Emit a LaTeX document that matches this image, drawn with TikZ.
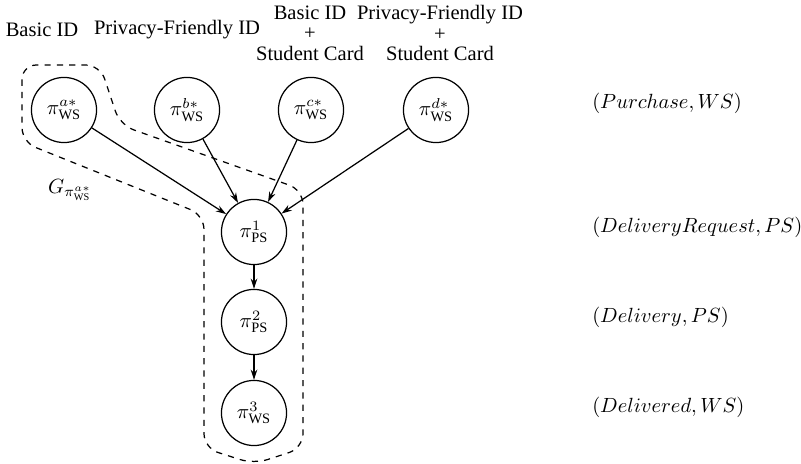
\documentclass[tikz,border=0pt]{standalone}
\usepackage{amsmath}
\usepackage[no-math]{fontspec}
\setmainfont{Liberation Serif}
\usetikzlibrary{arrows.meta}

\begin{document}
\begin{tikzpicture}[x=0.487pt, y=-0.487pt,
		state/.style={circle, draw, semithick, minimum size=31.7pt, inner sep=0pt},
		edge/.style={-{Stealth[length=5pt, width=3.2pt, inset=1.6pt]}, semithick},
		hull/.style={dashed, semithick, rounded corners=7pt},
		idlabel/.style={align=center, font=\fontsize{10}{10}\selectfont}]
		\useasboundingbox (0,0) rectangle (801,464);

		% Credentials
		\node[idlabel] (l1) at (42,30) {Basic ID};
		\node[idlabel] (l2) at (177,30) {Privacy-Friendly ID};
		\node[idlabel] (l3) at (310,33) {Basic ID\\+\\Student Card};
		\node[idlabel] (l4) at (440,33) {Privacy-Friendly ID\\+\\Student Card};

		% States
		\node[state] (a) at (64,110) {$\pi^{a*}_{\text{WS}}$};
		\node[state] (b) at (187,110) {$\pi^{b*}_{\text{WS}}$};
		\node[state] (c) at (311,110) {$\pi^{c*}_{\text{WS}}$};
		\node[state] (d) at (436,110) {$\pi^{d*}_{\text{WS}}$};
		\node[state] (p1) at (254,232) {$\pi^{1}_{\text{PS}}$};
		\node[state] (p2) at (254,322) {$\pi^{2}_{\text{PS}}$};
		\node[state] (w3) at (254,413) {$\pi^{3}_{\text{WS}}$};

		\draw[edge] (a) -- (p1);
		\draw[edge] (b) -- (p1);
		\draw[edge] (c) -- (p1);
		\draw[edge] (d) -- (p1);
		\draw[edge] (p1) -- (p2);
		\draw[edge] (p2) -- (w3);

		% Events
		\node[anchor=west] (e1) at (585,103) {$(Purchase, WS)$};
		\node[anchor=west] (e2) at (585,227) {$(DeliveryRequest, PS)$};
		\node[anchor=west] (e3) at (585,317) {$(Delivery, PS)$};
		\node[anchor=west] (e4) at (585,407) {$(Delivered, WS)$};

		% Subgraph
		\draw[hull] (22,100) -- (22,65) -- (100,65) -- (120,125) -- (303,190)
			-- (303,448) -- (254,464) -- (204,448) -- (204,215) -- (22,142) -- cycle;
		\node (g) at (70,190) {$G_{\pi^{a*}_{\text{WS}}}$};
	\end{tikzpicture}
\end{document}
